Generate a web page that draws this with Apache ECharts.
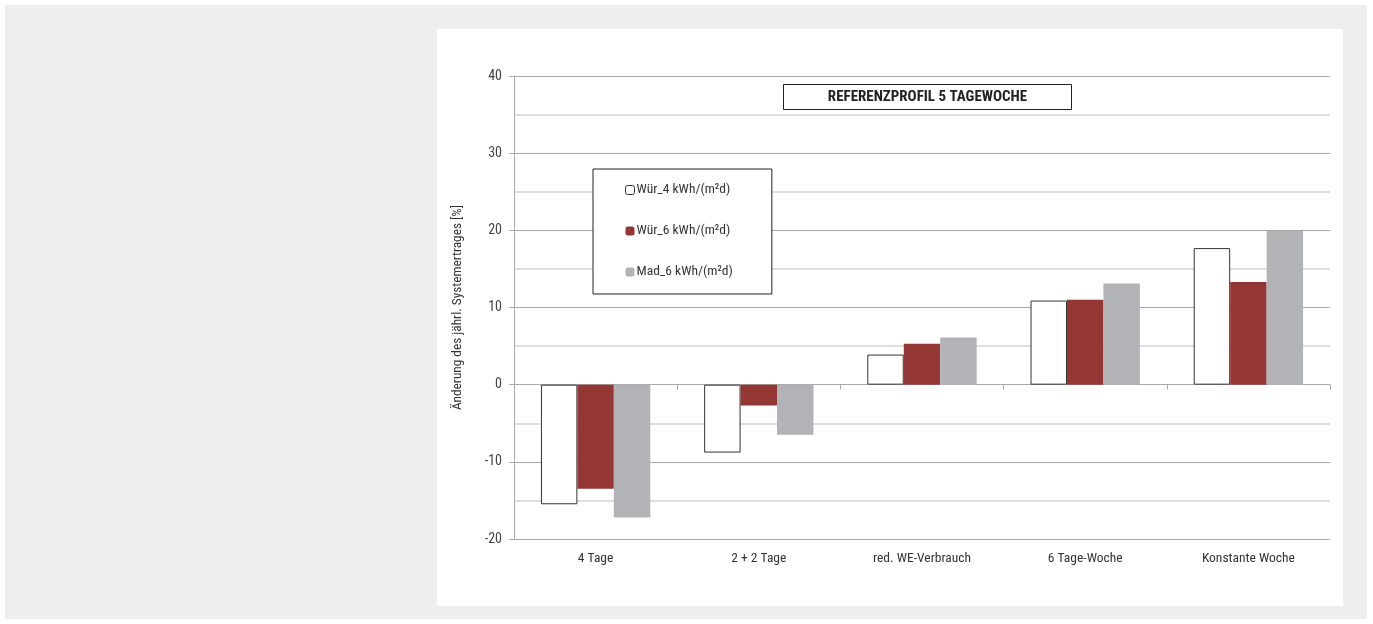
<!DOCTYPE html>
<html>
<head>
<meta charset="utf-8">
<script src="https://cdn.jsdelivr.net/npm/echarts@6/dist/echarts.min.js"></script>
<style>
html,body{margin:0;padding:0;background:#fff;}
#c{width:1373px;height:624px;}
</style>
</head>
<body>
<div id="c"></div>
<script>
const categories = ['4 Tage', '2 + 2 Tage', 'red. WE-Verbrauch', '6 Tage-Woche', 'Konstante Woche'];
const seriesNames = ['Wür_4 kWh/(m²d)', 'Wür_6 kWh/(m²d)', 'Mad_6 kWh/(m²d)'];
const wuer4 = [-15.5, -8.8, 3.9, 10.9, 17.7];
const wuer6 = [-13.5, -2.7, 5.3, 11.0, 13.3];
const mad6 = [-17.2, -6.5, 6.1, 13.1, 19.9];
const yTicks = { min: -20, max: 40, interval: 10 };
const titleText = 'REFERENZPROFIL 5 TAGEWOCHE';
const yAxisName = 'Änderung des jährl. Systemertrages [%]';

const FONT = '"Liberation Sans Narrow", "Roboto Condensed", "DejaVu Sans Condensed", Roboto, sans-serif';
const chart = echarts.init(document.getElementById('c'), null, {renderer: 'canvas'});
chart.setOption({
  animation: false,
  backgroundColor: '#ffffff',
  textStyle: { fontFamily: FONT },
  graphic: [
    { type: 'rect', z: -10, silent: true, shape: { x: 5, y: 5, width: 1362, height: 614 }, style: { fill: '#eeeeee' } },
    { type: 'rect', z: -9, silent: true, shape: { x: 437, y: 29, width: 906, height: 577 }, style: { fill: '#ffffff' } },
    { type: 'group', left: 783, top: 84, z: 100, children: [
      { type: 'rect', shape: { x: 0, y: 0, width: 288, height: 25 }, style: { fill: '#ffffff', stroke: '#222222', lineWidth: 1 } },
      { type: 'text', x: 144, y: 13, style: { text: titleText, align: 'center', verticalAlign: 'middle', font: 'bold 15px ' + FONT, fill: '#222222' } }
    ]}
  ],
  legend: {
    data: seriesNames,
    orient: 'vertical',
    left: 593,
    top: 169,
    backgroundColor: '#ffffff',
    borderColor: '#222222',
    borderWidth: 1,
    padding: [14, 39, 15, 32],
    itemGap: 27,
    itemWidth: 9,
    itemHeight: 9,
    itemStyle: { borderWidth: 1 },
    textStyle: { fontFamily: FONT, fontSize: 13.5, color: '#333333', padding: [0, 0, 0, -3] },
    z: 100
  },
  grid: { left: 514, right: 43, top: 76, bottom: 85, containLabel: false },
  xAxis: [
    {
      type: 'category',
      data: categories,
      axisLine: { onZero: true, lineStyle: { color: '#aaaaaa', width: 1 } },
      axisTick: { show: true, length: 5, lineStyle: { color: '#aaaaaa' } },
      axisLabel: { show: false },
      splitLine: { show: false }
    },
    {
      type: 'category',
      data: categories,
      position: 'bottom',
      axisLine: { show: false, onZero: false },
      axisTick: { show: false },
      axisLabel: { show: true, margin: 13, fontSize: 13.5, color: '#333333', fontFamily: FONT },
      splitLine: { show: false }
    }
  ],
  yAxis: {
    type: 'value',
    min: yTicks.min,
    max: yTicks.max,
    interval: yTicks.interval,
    name: yAxisName,
    nameLocation: 'middle',
    nameGap: 50,
    nameTextStyle: { fontSize: 13.3, color: '#333333', fontFamily: FONT },
    axisLine: { show: true, lineStyle: { color: '#aaaaaa' } },
    axisTick: { show: true, length: 5, lineStyle: { color: '#aaaaaa' } },
    axisLabel: { fontSize: 14, color: '#444444', margin: 12, fontFamily: FONT },
    splitLine: { show: true, lineStyle: { color: '#a8a8a8', width: 1 } },
    minorTick: { show: false, splitNumber: 2 },
    minorSplitLine: { show: true, lineStyle: { color: '#d4d4d4', width: 1.5 } }
  },
  series: [
    { name: seriesNames[0], type: 'bar', xAxisIndex: 0, data: wuer4, barGap: '0%', barCategoryGap: '33%',
      itemStyle: { color: '#ffffff', borderColor: '#333333', borderWidth: 1 } },
    { name: seriesNames[1], type: 'bar', xAxisIndex: 0, data: wuer6, barGap: '0%', barCategoryGap: '33%',
      itemStyle: { color: '#943634' } },
    { name: seriesNames[2], type: 'bar', xAxisIndex: 0, data: mad6, barGap: '0%', barCategoryGap: '33%',
      itemStyle: { color: '#b2b3b7' } }
  ]
});
</script>
</body>
</html>
